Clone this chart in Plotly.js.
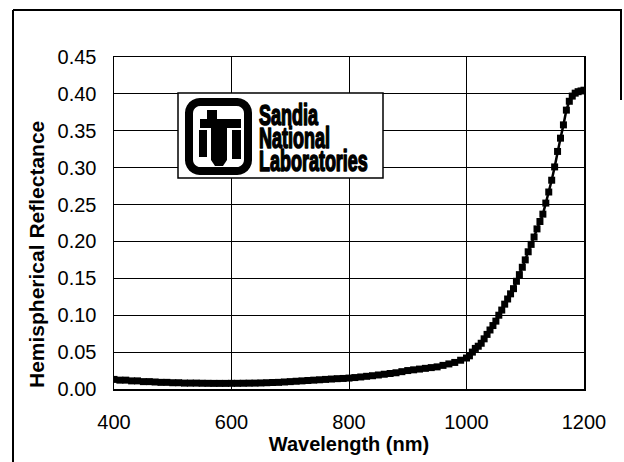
<!DOCTYPE html>
<html>
<head>
<meta charset="utf-8">
<script src="https://cdn.plot.ly/plotly-3.0.1.min.js"></script>
<style>
  html, body { margin: 0; padding: 0; background: #fff; }
  #chart { width: 624px; height: 462px; }
</style>
</head>
<body>
<div id="chart"></div>
<script>
// Wavelength (nm)
const wavelength = [
  400, 410, 420, 430, 440, 450, 460, 470, 480, 490,
  500, 510, 520, 530, 540, 550, 560, 570, 580, 590,
  600, 610, 620, 630, 640, 650, 660, 670, 680, 690,
  700, 710, 720, 730, 740, 750, 760, 770, 780, 790,
  800, 810, 820, 830, 840, 850, 860, 870, 880, 890,
  900, 910, 920, 930, 940, 950, 960, 970, 980, 990,
  1000, 1005, 1010, 1015, 1020, 1025, 1030, 1035, 1040, 1045,
  1050, 1055, 1060, 1065, 1070, 1075, 1080, 1085, 1090, 1095,
  1100, 1105, 1110, 1115, 1120, 1125, 1130, 1135, 1140, 1145,
  1150, 1155, 1160, 1165, 1170, 1175, 1180, 1185, 1190, 1195, 1200
];
// Hemispherical reflectance
const reflectance = [
  0.013, 0.012, 0.012, 0.011, 0.011, 0.010, 0.010, 0.0095, 0.009, 0.009,
  0.0085, 0.0085, 0.008, 0.008, 0.008, 0.0078, 0.0077, 0.0076, 0.0076, 0.0076,
  0.0077, 0.0077, 0.0078, 0.0079, 0.008, 0.0082, 0.0085, 0.0088, 0.009, 0.0095,
  0.010, 0.0105, 0.011, 0.0115, 0.012, 0.0125, 0.013, 0.0135, 0.014, 0.0143,
  0.0148, 0.0155, 0.0163, 0.0172, 0.018, 0.019, 0.020, 0.021, 0.022, 0.0235,
  0.025, 0.026, 0.027, 0.028, 0.029, 0.030, 0.032, 0.034, 0.036, 0.039,
  0.042, 0.045, 0.050, 0.055, 0.058, 0.062, 0.068, 0.074, 0.080, 0.086,
  0.092, 0.100, 0.107, 0.115, 0.122, 0.129, 0.136, 0.146, 0.155, 0.165,
  0.175, 0.186, 0.196, 0.206, 0.217, 0.227, 0.237, 0.252, 0.267, 0.283,
  0.301, 0.322, 0.340, 0.358, 0.378, 0.390, 0.397, 0.401, 0.403, 0.404, 0.405
];
const xTicks = [400, 600, 800, 1000, 1200];
const xTickLabels = ['400', '600', '800', '1000', '1200'];
const yTicks = [0, 0.05, 0.10, 0.15, 0.20, 0.25, 0.30, 0.35, 0.40, 0.45];
const yTickLabels = ['0.00', '0.05', '0.10', '0.15', '0.20', '0.25', '0.30', '0.35', '0.40', '0.45'];
const logoLines = ['Sandia', 'National', 'Laboratories'];

// pixel -> paper helpers for decorations
const W = 624, H = 462, L = 114, R = 40, T = 57, B = 73;
const pw = W - L - R, ph = H - T - B;
const px = x => (x - L) / pw;
const py = y => (H - B - y) / ph;
function pathFrom(pts) {
  return 'M' + pts.map(p => px(p[0]).toFixed(5) + ',' + py(p[1]).toFixed(5)).join(' L') + ' Z';
}
function rectPath(x0, y0, x1, y1) {
  return pathFrom([[x0, y0], [x1, y0], [x1, y1], [x0, y1]]);
}
function roundRectPath(x0, y0, x1, y1, r) {
  const pts = [];
  const corners = [[x1 - r, y0 + r, -90], [x1 - r, y1 - r, 0], [x0 + r, y1 - r, 90], [x0 + r, y0 + r, 180]];
  corners.forEach(c => {
    for (let k = 0; k <= 6; k++) {
      const a = (c[2] + k * 15) * Math.PI / 180;
      pts.push([c[0] + r * Math.cos(a), c[1] + r * Math.sin(a)]);
    }
  });
  return pathFrom(pts);
}

const font = 'Liberation Sans, Arial, Helvetica, sans-serif';

const shapes = [
  // outer frame
  {type: 'line', xref: 'paper', yref: 'paper', x0: px(13), x1: px(622), y0: py(10), y1: py(10), line: {color: '#000', width: 2}},
  {type: 'line', xref: 'paper', yref: 'paper', x0: px(13), x1: px(13), y0: py(10), y1: py(462), line: {color: '#000', width: 2}},
  {type: 'line', xref: 'paper', yref: 'paper', x0: px(621), x1: px(621), y0: py(10), y1: py(100), line: {color: '#000', width: 2}},
  // logo box
  {type: 'rect', xref: 'paper', yref: 'paper', x0: px(178), x1: px(383), y0: py(93), y1: py(178), fillcolor: '#fff', line: {color: '#000', width: 1.5}, layer: 'above'},
  // logo ring
  {type: 'path', xref: 'paper', yref: 'paper', path: roundRectPath(189, 102, 248, 171, 11), fillcolor: 'rgba(0,0,0,0)', line: {color: '#000', width: 8}, layer: 'above'},
  // thunderbird
  {type: 'path', xref: 'paper', yref: 'paper', path: rectPath(200, 119, 241, 128), fillcolor: '#000', line: {width: 0}, layer: 'above'},
  {type: 'path', xref: 'paper', yref: 'paper', path: rectPath(207, 110, 217, 119), fillcolor: '#000', line: {width: 0}, layer: 'above'},
  {type: 'path', xref: 'paper', yref: 'paper', path: rectPath(199, 130, 207, 157), fillcolor: '#000', line: {width: 0}, layer: 'above'},
  {type: 'path', xref: 'paper', yref: 'paper', path: rectPath(232, 130, 241, 159), fillcolor: '#000', line: {width: 0}, layer: 'above'},
  {type: 'path', xref: 'paper', yref: 'paper', path: pathFrom([[211, 128], [227, 128], [227, 160], [223, 166], [215, 166], [211, 160]]), fillcolor: '#000', line: {width: 0}, layer: 'above'}
];

const annotations = [
  {xref: 'paper', yref: 'paper', x: px(36), y: py(255), text: '<b>Hemispherical Reflectance</b>', textangle: -90, showarrow: false,
   font: {family: font, size: 21, color: '#000'}, xanchor: 'center', yanchor: 'middle'},
  {xref: 'paper', yref: 'paper', x: px(259), y: py(100), text: logoLines.map(t => '<b>' + t + '</b>').join('<br>'),
   showarrow: false, xanchor: 'left', yanchor: 'top', align: 'left', name: 'logo',
   font: {family: font, size: 29, color: '#000'}}
];

const trace = {
  x: wavelength, y: reflectance, type: 'scatter', mode: 'lines+markers',
  line: {color: '#000', width: 2.5},
  marker: {symbol: 'square', size: 7, color: '#000'},
  hoverinfo: 'x+y'
};

const layout = {
  width: W, height: H,
  margin: {l: L, r: R, t: T, b: B, pad: 0},
  paper_bgcolor: '#fff', plot_bgcolor: '#fff',
  showlegend: false,
  font: {family: font, color: '#000'},
  xaxis: {
    range: [400, 1200], tickmode: 'array', tickvals: xTicks, ticktext: xTickLabels,
    showgrid: true, gridcolor: '#000', gridwidth: 1, zeroline: false,
    showline: true, linecolor: '#000', linewidth: 1.5, mirror: true,
    ticks: '', ticklabelstandoff: 14, tickfont: {family: font, size: 20, color: '#000'},
    title: {text: '<b>Wavelength (nm)</b>', font: {family: font, size: 20, color: '#000'}, standoff: 1}
  },
  yaxis: {
    range: [0, 0.45], tickmode: 'array', tickvals: yTicks, ticktext: yTickLabels,
    showgrid: true, gridcolor: '#000', gridwidth: 1, zeroline: false,
    showline: true, linecolor: '#000', linewidth: 1.5, mirror: true,
    ticks: '', ticklabelstandoff: 12, tickfont: {family: font, size: 20, color: '#000'}
  },
  shapes: shapes,
  annotations: annotations
};

// The logo text uses a very compressed, heavy typeface: tighten its lines, squeeze it horizontally, thicken strokes.
function styleLogo(gd) {
  const el = Array.from(gd.querySelectorAll('.annotation-text'))
    .find(t => t.textContent.indexOf('Sandia') === 0);
  if (!el) return;
  const pitch = 23, squeeze = 0.62, left = 259, firstBaseline = 125;
  el.querySelectorAll('tspan.line').forEach((t, i) => t.setAttribute('dy', (i * pitch) + 'px'));
  el.style.stroke = '#000';
  el.style.strokeWidth = '1.6px';
  el.style.strokeLinejoin = 'round';
  const X = parseFloat(el.getAttribute('x')) || 0;
  const Y = parseFloat(el.getAttribute('y')) || 0;
  const ctm = el.getScreenCTM();
  const host = gd.getBoundingClientRect();
  const sx = ctm.a * X + ctm.c * Y + ctm.e - host.left;
  const sy = ctm.b * X + ctm.d * Y + ctm.f - host.top;
  const dx = left - sx, dy = firstBaseline - sy;
  el.setAttribute('transform', 'translate(' + (X + dx) + ',' + (Y + dy) + ') scale(' + squeeze + ',1) translate(' + (-X) + ',' + (-Y) + ')');
}

Plotly.newPlot('chart', [trace], layout, {displayModeBar: false, staticPlot: true}).then(styleLogo);
</script>
</body>
</html>
